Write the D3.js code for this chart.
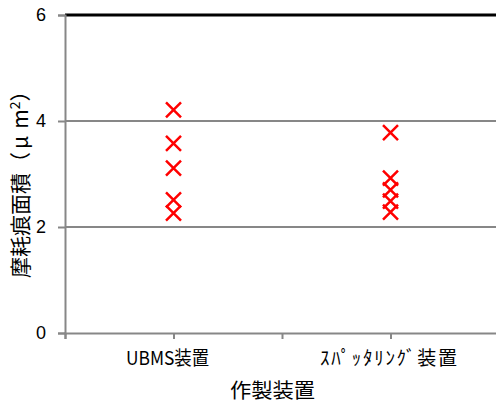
<!DOCTYPE html>
<html>
<head>
<meta charset="utf-8">
<script src="https://cdn.jsdelivr.net/npm/d3@7"></script>
<style>
  html, body { margin: 0; padding: 0; background: #fff; }
  svg { display: block; }
  text { font-family: "Noto Sans CJK JP", "Noto Sans", sans-serif; fill: #000; }
</style>
</head>
<body>
<svg id="chart" width="496" height="405"></svg>
<script>
// Measured wear-scar areas per deposition device
const categories = ["UBMS装置", "ｽﾊﾟｯﾀﾘﾝｸﾞ装置"];
const categoryX = [1, 3];
const ubmsValues = [4.21, 3.58, 3.11, 2.51, 2.26];
const sputterValues = [3.78, 2.92, 2.70, 2.49, 2.28];
const yTicks = [0, 2, 4, 6];
const xTicks = [0, 1, 2, 3, 4];

const svg = d3.select("#chart");
const x = d3.scaleLinear().domain([0, 4]).range([65, 499]);
const y = d3.scaleLinear().domain([0, 6]).range([333, 15]);

// Horizontal gridlines (top one drawn as the black plot border)
svg.append("g").selectAll("line")
  .data(yTicks.filter(d => d > 0))
  .join("line")
  .attr("x1", x(0)).attr("x2", x(4))
  .attr("y1", d => y(d)).attr("y2", d => y(d))
  .attr("stroke", d => d === 6 ? "#000" : "#878787")
  .attr("stroke-width", d => d === 6 ? 3 : 2);

// Y axis
const yAxis = svg.append("g")
  .attr("transform", `translate(${x(0)},0)`)
  .call(d3.axisLeft(y).tickValues(yTicks).tickSize(7).tickPadding(12).tickFormat(d3.format("d")));
yAxis.select(".domain").attr("stroke", "#878787").attr("stroke-width", 2);
yAxis.selectAll(".tick line").attr("stroke", "#878787").attr("stroke-width", 2);
yAxis.selectAll(".tick text").style("font-size", "18px").style("font-family", "'Liberation Sans', sans-serif");

// X axis; category names sit under their tick positions
const xAxis = svg.append("g")
  .attr("transform", `translate(0,${y(0)})`)
  .call(d3.axisBottom(x).tickValues(xTicks).tickSize(6).tickFormat(() => ""));
xAxis.select(".domain").attr("stroke", "#878787").attr("stroke-width", 2);
xAxis.selectAll(".tick line").attr("stroke", "#878787").attr("stroke-width", 2);

const labelWidths = [83, 137];
const labelShift = [-6, -2];
svg.append("g").selectAll("text")
  .data(categories)
  .join("text")
  .attr("x", (d, i) => x(categoryX[i]) + labelShift[i] - labelWidths[i] / 2)
  .attr("y", 365)
  .attr("textLength", (d, i) => labelWidths[i])
  .attr("lengthAdjust", (d, i) => i === 0 ? "spacingAndGlyphs" : "spacing")
  .style("font-size", "19px")
  .text(d => d);

// Axis titles
svg.append("text")
  .attr("x", 230).attr("y", 398)
  .attr("textLength", 85)
  .attr("lengthAdjust", "spacingAndGlyphs")
  .style("font-size", "20px")
  .text("作製装置");

const yTitle = svg.append("text")
  .attr("transform", "translate(28,278) rotate(-90)")
  .style("font-size", "21px");
yTitle.append("tspan").text("摩耗痕面積（");
yTitle.append("tspan").attr("dx", 3).text("μ");
yTitle.append("tspan").attr("dx", 7).text("m");
yTitle.append("tspan").attr("dy", -8).style("font-size", "14px").text("2");
yTitle.append("tspan").attr("dy", 8).text("）");

// Red cross markers
const points = [
  ...ubmsValues.map(v => ({ cx: categoryX[0], v })),
  ...sputterValues.map(v => ({ cx: categoryX[1], v }))
];
const r = 7.5;
svg.append("g").selectAll("path")
  .data(points)
  .join("path")
  .attr("d", d => {
    const px = x(d.cx), py = y(d.v);
    return `M${px - r},${py - r}L${px + r},${py + r}M${px - r},${py + r}L${px + r},${py - r}`;
  })
  .attr("stroke", "#ff0000")
  .attr("stroke-width", 2.5)
  .attr("fill", "none");
</script>
</body>
</html>
